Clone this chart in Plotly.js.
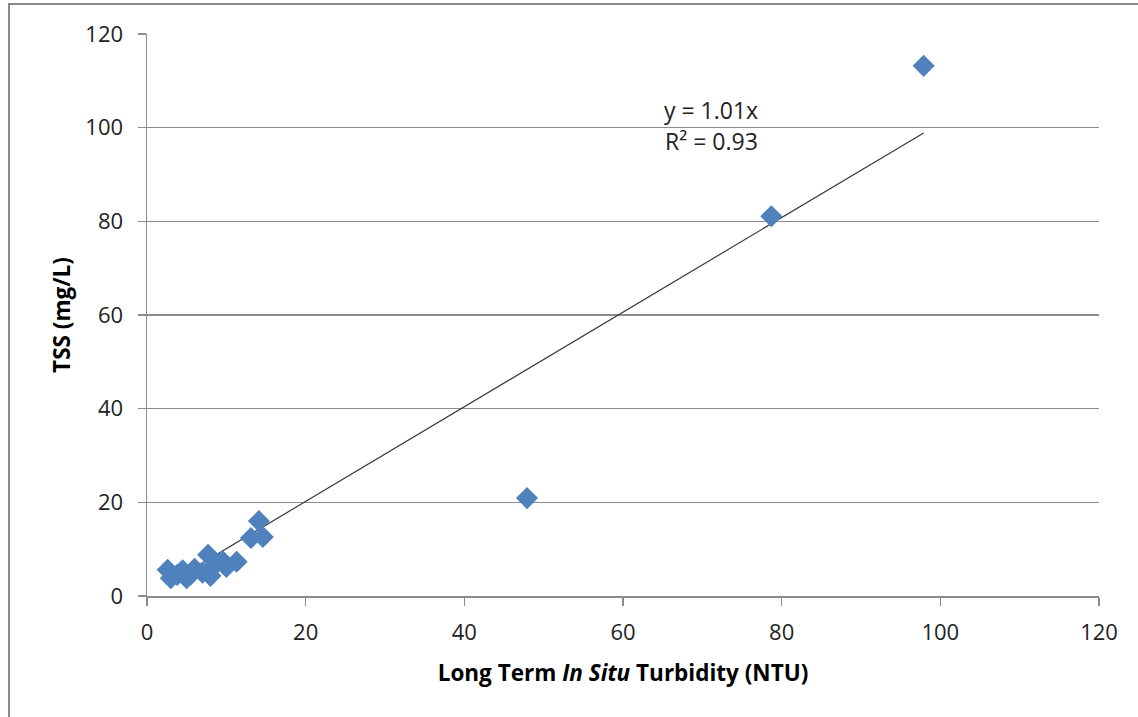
<!DOCTYPE html>
<html>
<head>
<meta charset="utf-8">
<script src="https://cdn.plot.ly/plotly-3.0.1.min.js"></script>
<style>
  html, body { margin: 0; padding: 0; background: #fff; overflow: hidden; }
  #frame { position: absolute; left: 8px; top: 3px; width: 1200px; height: 800px;
           border-left: 2px solid #8a8a8a; border-top: 2px solid #8a8a8a; }
  #chart { position: absolute; left: 0; top: 0; width: 1138px; height: 717px; }
</style>
</head>
<body>
<div id="frame"></div>
<div id="chart"></div>
<script>
// Turbidity (NTU) vs TSS (mg/L)
const turbidity = [2.6, 3.0, 3.8, 4.5, 5.0, 5.5, 6.0, 7.0, 7.7, 8.0, 8.5, 9.5, 10.0, 11.3, 13.1, 14.1, 14.6, 47.9, 78.7, 97.9];
const tss       = [5.6, 3.8, 4.5, 5.5, 3.8, 4.6, 5.8, 5.0, 8.8, 4.3, 6.5, 7.5, 6.2, 7.3, 12.4, 16.0, 12.6, 20.9, 81.1, 113.2];
const slope = 1.01;
const rSquared = 0.93;
const xTicks = [0, 20, 40, 60, 80, 100, 120];
const yTicks = [0, 20, 40, 60, 80, 100, 120];

const xMin = Math.min(...turbidity), xMax = Math.max(...turbidity);
const font = "'Open Sans', 'Noto Sans', sans-serif";

const data = [
  {
    x: [xMin, xMax], y: [slope * xMin, slope * xMax],
    type: 'scatter', mode: 'lines',
    line: { color: '#3a3a3a', width: 1.2 },
    hoverinfo: 'skip', showlegend: false
  },
  {
    x: turbidity, y: tss, type: 'scatter', mode: 'markers',
    marker: { symbol: 'diamond', size: 17, color: '#4F81BD', line: { width: 0 } },
    showlegend: false
  }
];

const layout = {
  width: 1138, height: 717,
  margin: { l: 147, r: 39, t: 34, b: 121 },
  paper_bgcolor: 'rgba(0,0,0,0)', plot_bgcolor: 'rgba(0,0,0,0)',
  font: { family: font, size: 22, color: '#222' },
  xaxis: {
    range: [0, 120], tickvals: xTicks, ticktext: xTicks.map(String),
    showgrid: false, zeroline: false, showline: true, linecolor: '#8c8c8c', linewidth: 1.5,
    ticks: 'outside', ticklen: 8, tickcolor: '#8c8c8c', tickwidth: 1.5,
    ticklabelstandoff: 8,
    tickfont: { family: font, size: 22, color: '#222' },
    title: { text: '<b>Long Term <i>In Situ</i> Turbidity (NTU)</b>', font: { family: font, size: 22.5, color: '#000' }, standoff: 20 }
  },
  yaxis: {
    range: [0, 120], tickvals: yTicks, ticktext: yTicks.map(String),
    showgrid: true, gridcolor: '#8c8c8c', gridwidth: 1.2,
    zeroline: false, showline: true, linecolor: '#8c8c8c', linewidth: 1.5,
    ticks: 'outside', ticklen: 8, tickcolor: '#8c8c8c', tickwidth: 1.5,
    ticklabelstandoff: 10,
    tickfont: { family: font, size: 22, color: '#222' },
    title: { text: '<b>TSS (mg/L)</b>', font: { family: font, size: 22.5, color: '#000' }, standoff: 8 }
  },
  annotations: [
    { x: 71.1, y: 103.8, xref: 'x', yref: 'y', showarrow: false,
      text: 'y = ' + slope.toFixed(2) + 'x', font: { family: font, size: 23, color: '#222' } },
    { x: 71.1, y: 97.2, xref: 'x', yref: 'y', showarrow: false,
      text: 'R² = ' + rSquared.toFixed(2), font: { family: font, size: 23, color: '#222' } }
  ]
};

Plotly.newPlot('chart', data, layout, { displayModeBar: false, staticPlot: true });
</script>
</body>
</html>
